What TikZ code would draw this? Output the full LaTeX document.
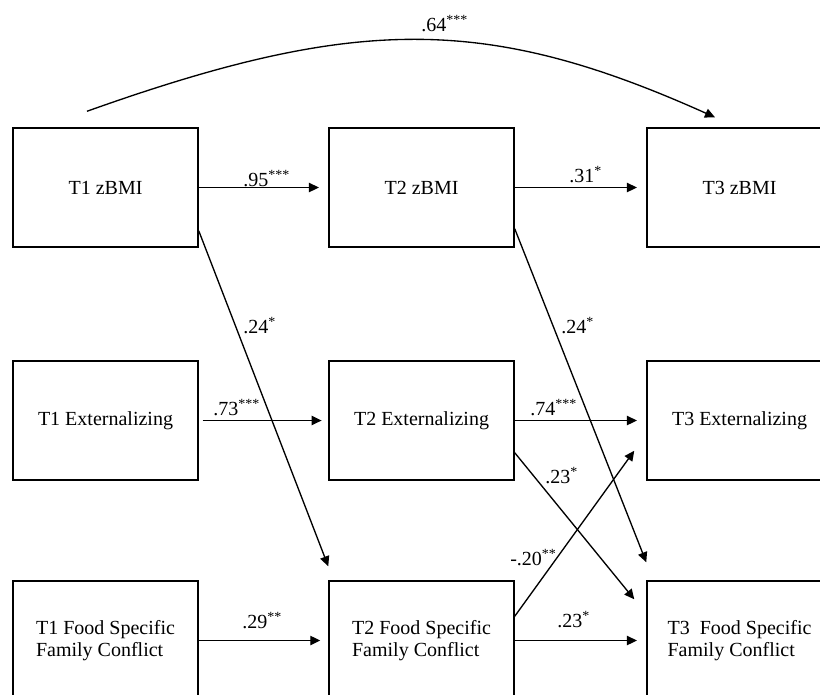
\documentclass[tikz,border=0pt]{standalone}
\usepackage{fontspec}
\setmainfont{Liberation Serif}
\usetikzlibrary{arrows.meta}

\tikzset{
  var/.style={draw, line width=1.1pt, minimum width=138.75pt, minimum height=89.25pt,
    inner sep=2pt, align=left, font=\fontsize{15}{17}\selectfont},
  link/.style={line width=1pt, -{Triangle[length=7.5pt,width=7pt]}},
  coef/.style={anchor=base west, inner sep=0pt, font=\fontsize{15}{17}\selectfont},
}

\begin{document}
\begin{tikzpicture}[x=0.75pt, y=-0.75pt]

   \path[use as bounding box, clip] (0,0) rectangle (820,694);

   % variables
   \node[var] (t1bmi) at (105.5,187.5) {T1 zBMI};
   \node[var] (t2bmi) at (421.5,187.5) {T2 zBMI};
   \node[var] (t3bmi) at (739.5,187.5) {T3 zBMI};

   \node[var] (t1ext) at (105.5,420.5) {T1 Externalizing};
   \node[var] (t2ext) at (421.5,420.5) {T2 Externalizing};
   \node[var] (t3ext) at (739.5,420.5) {T3 Externalizing};

   \node[var] (t1food) at (105.5,640.5) {T1 Food Specific\\Family Conflict};
   \node[var] (t2food) at (421.5,640.5) {T2 Food Specific\\Family Conflict};
   \node[var] (t3food) at (739.5,640.5) {T3\ \ Food Specific\\Family Conflict};

   % stability paths
   \draw[link, shorten >=7pt] (t1bmi.east) -- (t2bmi.west);
   \draw[link, shorten >=7pt] (t2bmi.east) -- (t3bmi.west);
   \draw[link, shorten <=3pt, shorten >=5pt] (t1ext.east) -- (t2ext.west);
   \draw[link, shorten >=7pt] (t2ext.east) -- (t3ext.west);
   \draw[link, shorten >=6pt] (t1food.east) -- (t2food.west);
   \draw[link, shorten >=7pt] (t2food.east) -- (t3food.west);
   \draw[link] ([xshift=-13.9pt,yshift=12pt]t1bmi.north)
      .. controls (357,15) and (487,15) .. ([xshift=-18.4pt,yshift=7.5pt]t3bmi.north);

   % cross-lagged paths
   \draw[link] ([yshift=12.75pt]t1bmi.south east) -- ([yshift=10.5pt]t2food.north west);
   \draw[link] ([yshift=14.25pt]t2bmi.south east) -- ([yshift=13.5pt]t3food.north west);
   \draw[link] ([yshift=21pt]t2ext.south east) -- ([xshift=-9pt,yshift=-14.25pt]t3food.north west);
   \draw[link] ([yshift=-27pt]t2food.north east) -- ([xshift=-9pt,yshift=22.5pt]t3ext.south west);

   % coefficients
   \node[coef] (c64) at (421,31) {.64\textsuperscript{***}};
   \node[coef] (c95) at (243,186) {.95\textsuperscript{***}};
   \node[coef] (c31) at (569,182) {.31\textsuperscript{*}};
   \node[coef] (c24a) at (243,333) {.24\textsuperscript{*}};
   \node[coef] (c24b) at (561,333) {.24\textsuperscript{*}};
   \node[coef] (c73) at (213,415) {.73\textsuperscript{***}};
   \node[coef] (c74) at (530,415) {.74\textsuperscript{***}};
   \node[coef] (c23a) at (545,483) {.23\textsuperscript{*}};
   \node[coef] (c20) at (510,565) {-.20\textsuperscript{**}};
   \node[coef] (c29) at (242,628) {.29\textsuperscript{**}};
   \node[coef] (c23b) at (557,627) {.23\textsuperscript{*}};

\end{tikzpicture}
\end{document}
